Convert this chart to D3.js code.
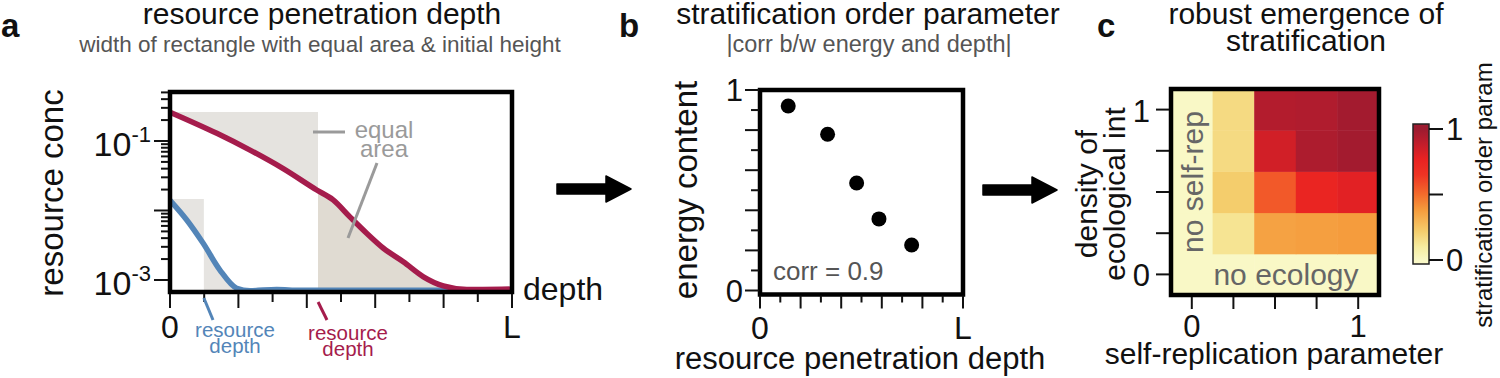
<!DOCTYPE html>
<html>
<head>
<meta charset="utf-8">
<script src="https://cdn.jsdelivr.net/npm/d3@7"></script>
<style>body{margin:0;background:#fff}</style>
</head>
<body>
<svg width="1500" height="378" id="mainsvg"></svg>
<script>
// panel a: resource profiles, depth as a fraction of L
const redDepth = [0, 0.137, 0.234, 0.331, 0.429, 0.477, 0.526, 0.575, 0.624, 0.682, 0.741, 0.799, 0.868, 0.915, 1.0];
const redConc  = [0.26, 0.129, 0.074, 0.040, 0.0197, 0.0142, 0.0081, 0.0047, 0.00286, 0.00183, 0.00111, 0.00082, 0.00073, 0.00073, 0.00074];
const blueDepth = [0, 0.049, 0.097, 0.146, 0.195, 0.234, 0.312, 0.38, 0.6, 1.0];
const blueConc  = [0.0140, 0.0073, 0.00337, 0.00139, 0.00076, 0.00070, 0.00073, 0.00071, 0.00071, 0.00071];
const redResDepth = 0.433, redInit = 0.261;
const blueResDepth = 0.099, blueInit = 0.0146;
const logTickLabels = [0.1, 0.001];

// panel b: energy vs penetration depth
const dotDepth  = [0.139, 0.333, 0.476, 0.586, 0.747];
const dotEnergy = [0.920, 0.779, 0.536, 0.357, 0.227];
const corrLabel = "corr = 0.9";

// panel c: order parameter grid (rows = density of ecological int, bottom to top)
const selfRep = [0, 0.25, 0.5, 0.75, 1];
const ecoDensity = [0, 0.25, 0.5, 0.75, 1];
const orderParam = [
  [0, 0,    0,    0,    0   ],
  [0, 0.13, 0.36, 0.37, 0.38],
  [0, 0.22, 0.55, 0.75, 0.79],
  [0, 0.17, 0.84, 0.95, 0.98],
  [0, 0.17, 0.93, 0.94, 0.98]
];
const colorStopVals = [0, 0.1, 0.22, 0.38, 0.5, 0.65, 0.77, 0.9, 1];
const colorStopHex  = ["#f9f8c6", "#f6eca0", "#f4cd6c", "#f59c3d", "#f36c2c", "#ef3424", "#e92222", "#bd1d2c", "#9c1b30"];

const FONT = "'Liberation Sans', Arial, Helvetica, sans-serif";
let svg = d3.select("#mainsvg").style("font-family", FONT);
svg.append("rect").attr("width", 1500).attr("height", 378).attr("fill", "#fff");
let defs = svg.append("defs");

function txt(g, x, y, s, size, opt) {
  opt = opt || {};
  let lines = Array.isArray(s) ? s : [s];
  let t = g.append("text").attr("x", x).attr("y", y)
    .attr("font-size", size).attr("fill", opt.fill || "#111")
    .attr("text-anchor", opt.anchor || "middle");
  lines.forEach((l, i) => t.append("tspan").attr("x", x).attr("dy", i ? (opt.lh || size) : 0).text(l));
  if (opt.bold) t.attr("font-weight", "bold");
  if (opt.rotate) t.attr("transform", `rotate(-90,${x},${y})`);
  return t;
}
function tickLines(g, vals, f, len) {
  g.selectAll(null).data(vals).join("line")
    .attr("x1", d => f(d)[0]).attr("y1", d => f(d)[1])
    .attr("x2", d => f(d)[0] + len[0]).attr("y2", d => f(d)[1] + len[1])
    .attr("stroke", "#111").attr("stroke-width", 2);
}
function arrow(x0, x1, yc) {
  svg.append("path")
    .attr("d", `M${x0},${yc-5} L${x1-25},${yc-5} L${x1-25},${yc-13} L${x1},${yc} L${x1-25},${yc+13} L${x1-25},${yc+5} L${x0},${yc+5} Z`)
    .attr("fill", "#000").attr("stroke", "#000").attr("stroke-width", 1.5).attr("stroke-linejoin", "round");
}

// ---------- panel a ----------
const xA = d3.scaleLinear().domain([0, 1]).range([170, 512]);
const yA = d3.scaleLog().domain([Math.pow(10, -3.173), Math.pow(10, -0.295)]).range([292, 92]);
const yBot = yA.range()[0], yTop = yA.range()[1];
let ga = svg.append("g");
function clip(id, d0, d1) {
  defs.append("clipPath").attr("id", id).append("rect")
    .attr("x", xA(d0)).attr("y", yTop).attr("width", xA(d1) - xA(d0)).attr("height", yBot - yTop);
}
clip("clipA", 0, 1);
clip("clipRedIn", 0, redResDepth);
clip("clipRedOut", redResDepth, 1);
clip("clipBlueIn", 0, blueResDepth);
clip("clipBlueOut", blueResDepth, 1);

let redPts = redDepth.map((d, i) => [d, redConc[i]]);
let bluePts = blueDepth.map((d, i) => [d, blueConc[i]]);

// rectangle part above the curve, and curve part beyond the rectangle
function shade(pts, top, clipId, fill) {
  ga.append("path").datum(pts).attr("clip-path", `url(#${clipId})`)
    .attr("d", d3.area().x(d => xA(d[0])).y0(top).y1(d => yA(d[1])).curve(d3.curveMonotoneX))
    .attr("fill", fill);
}
shade(redPts, yA(redInit), "clipRedIn", "#e5e3df");
shade(redPts, yBot, "clipRedOut", "#e0dbd2");
shade(bluePts, yA(blueInit), "clipBlueIn", "#e6e4e1");
shade(bluePts, yBot, "clipBlueOut", "#e6e4e1");

let lineA = d3.line().x(d => xA(d[0])).y(d => yA(d[1])).curve(d3.curveMonotoneX);
ga.append("path").datum(bluePts).attr("d", lineA).attr("clip-path", "url(#clipA)")
  .attr("fill", "none").attr("stroke", "#5385b8").attr("stroke-width", 5.5);
ga.append("path").datum(redPts).attr("d", lineA).attr("clip-path", "url(#clipA)")
  .attr("fill", "none").attr("stroke", "#a51c4c").attr("stroke-width", 5.5);

ga.append("rect").attr("x", xA(0)).attr("y", yTop)
  .attr("width", xA(1) - xA(0)).attr("height", yBot - yTop)
  .attr("fill", "none").attr("stroke", "#000").attr("stroke-width", 4.5);

// log ticks
let logMajor = [], logMinor = [];
for (let e = -4; e <= 0; e++) for (let m = 1; m <= 9; m++) {
  let v = m * Math.pow(10, e);
  if (v < 0.001 || v > yA.domain()[1]) continue;
  (m === 1 ? logMajor : logMinor).push(v);
}
tickLines(ga, logMajor, d => [xA(0) - 2, yA(d)], [-14, 0]);
tickLines(ga, logMinor, d => [xA(0) - 2, yA(d)], [-7, 0]);
logTickLabels.forEach(v => {
  let t = ga.append("text").attr("x", 151).attr("y", yA(v) + 15)
    .attr("text-anchor", "end").attr("font-size", 34).attr("fill", "#111");
  t.append("tspan").text("10");
  t.append("tspan").text("-" + Math.round(-Math.log10(v))).attr("font-size", 22).attr("dy", -14);
});
let xTicksA = d3.range(0, 11).map(i => i / 10);
tickLines(ga, xTicksA.filter((d, i) => i % 2 === 0), d => [xA(d), yBot + 2], [0, 14]);
tickLines(ga, xTicksA.filter((d, i) => i % 2 === 1), d => [xA(d), yBot + 2], [0, 8]);
txt(ga, xA(0), 338, "0", 32);
txt(ga, xA(1), 338, "L", 32);
txt(ga, 523, 300, "depth", 32, {anchor: "start"});
txt(ga, 63, 193, "resource conc", 33, {rotate: true});

// annotations
ga.append("line").attr("x1", 313).attr("y1", 132).attr("x2", 345).attr("y2", 132).attr("stroke", "#9a9a9a").attr("stroke-width", 3);
ga.append("line").attr("x1", 377).attr("y1", 163).attr("x2", 348).attr("y2", 238).attr("stroke", "#9a9a9a").attr("stroke-width", 3);
txt(ga, 384, 138, ["equal", "area"], 24, {fill: "#9a9a9a", lh: 19});
ga.append("line").attr("x1", xA(blueResDepth)).attr("y1", 298).attr("x2", 213).attr("y2", 320).attr("stroke", "#5385b8").attr("stroke-width", 3);
ga.append("line").attr("x1", xA(redResDepth)).attr("y1", 302).attr("x2", 327).attr("y2", 320).attr("stroke", "#a51c4c").attr("stroke-width", 3);
txt(ga, 235, 337, ["resource", "depth"], 20.5, {fill: "#5385b8", lh: 16});
txt(ga, 348, 340, ["resource", "depth"], 20.5, {fill: "#a51c4c", lh: 16});

txt(ga, 322, 24, "resource penetration depth", 30);
txt(ga, 320, 52, "width of rectangle with equal area & initial height", 22.5, {fill: "#555"});
txt(ga, 1, 37, "a", 33, {anchor: "start", bold: true});

arrow(557, 631, 189);

// ---------- panel b ----------
const xB = d3.scaleLinear().domain([0, 1]).range([760, 963]);
const yB = d3.scaleLinear().domain([0, 1]).range([290.5, 90]);
let gb = svg.append("g");
gb.selectAll("circle").data(dotDepth).join("circle")
  .attr("cx", d => xB(d)).attr("cy", (d, i) => yB(dotEnergy[i])).attr("r", 7.5).attr("fill", "#000");
gb.append("rect").attr("x", xB(0)).attr("y", yB(1))
  .attr("width", xB(1) - xB(0)).attr("height", yB(0) + 4 - yB(1))
  .attr("fill", "none").attr("stroke", "#000").attr("stroke-width", 4.5);
let tB = d3.range(0, 11).map(i => i / 10);
tickLines(gb, tB.filter((d, i) => i % 2 === 0), d => [xB(0) - 1, yB(d)], [-14, 0]);
tickLines(gb, tB.filter((d, i) => i % 2 === 1), d => [xB(0) - 1, yB(d)], [-8, 0]);
tickLines(gb, tB.filter((d, i) => i % 2 === 0), d => [xB(d), yB(0) + 5], [0, 13]);
tickLines(gb, tB.filter((d, i) => i % 2 === 1), d => [xB(d), yB(0) + 5], [0, 7]);
txt(gb, 743, yB(1) + 11, "1", 31, {anchor: "end"});
txt(gb, 743, yB(0) + 11, "0", 31, {anchor: "end"});
txt(gb, xB(0), 339, "0", 32);
txt(gb, xB(1), 339, "L", 32);
txt(gb, 773, 280, corrLabel, 26, {anchor: "start", fill: "#555"});
txt(gb, 697, 190, "energy content", 33, {rotate: true});
txt(gb, 860, 369, "resource penetration depth", 31);
txt(gb, 868, 24, "stratification order parameter", 30);
txt(gb, 869, 52, "|corr b/w energy and depth|", 23.5, {fill: "#555"});
txt(gb, 619, 37, "b", 33, {anchor: "start", bold: true});

arrow(983, 1057, 190);

// ---------- panel c ----------
const xC = d3.scaleLinear().domain([-0.125, 1.125]).range([1171, 1379]);
const yC = d3.scaleLinear().domain([-0.125, 1.125]).range([295, 89]);
const color = d3.scaleLinear().domain(colorStopVals).range(colorStopHex);
let gc = svg.append("g");
let cells = [];
ecoDensity.forEach((e, i) => selfRep.forEach((s, j) => cells.push({s: s, e: e, v: orderParam[i][j]})));
gc.selectAll(".cell").data(cells).join("rect").attr("class", "cell")
  .attr("x", d => xC(d.s - 0.125)).attr("y", d => yC(d.e + 0.125))
  .attr("width", d => xC(d.s + 0.125) - xC(d.s - 0.125) + 0.5)
  .attr("height", d => yC(d.e - 0.125) - yC(d.e + 0.125) + 0.5)
  .attr("fill", d => color(d.v));
gc.append("rect").attr("x", xC(-0.125)).attr("y", yC(1.125))
  .attr("width", xC(1.125) - xC(-0.125)).attr("height", yC(-0.125) - yC(1.125))
  .attr("fill", "none").attr("stroke", "#000").attr("stroke-width", 4.5);
tickLines(gc, ecoDensity, d => [xC(-0.125) - 2, yC(d)], [-13, 0]);
tickLines(gc, selfRep, d => [xC(d), yC(-0.125) + 2], [0, 12]);
txt(gc, 1150, yC(1) + 12, "1", 31, {anchor: "end"});
txt(gc, 1150, yC(0) + 12, "0", 31, {anchor: "end"});
txt(gc, xC(0), 337, "0", 31);
txt(gc, xC(1), 337, "1", 31);
txt(gc, 1203, 182, "no self-rep", 30, {rotate: true, fill: "#666"});
txt(gc, 1286, 285, "no ecology", 30, {fill: "#666"});
txt(gc, 1097, 194, ["density of", "ecological int"], 30, {rotate: true, lh: 28});
txt(gc, 1274, 364, "self-replication parameter", 30);
txt(gc, 1306, 24, ["robust emergence of", "stratification"], 30, {lh: 27});
txt(gc, 1097, 37, "c", 33, {anchor: "start", bold: true});

// colorbar
const yCb = d3.scaleLinear().domain([0, 1]).range([260, 129]);
const cbTop = 124, cbBot = 264;
let grad = defs.append("linearGradient").attr("id", "cbGrad")
  .attr("x1", 0).attr("y1", 1).attr("x2", 0).attr("y2", 0);
grad.selectAll("stop").data(colorStopVals).join("stop")
  .attr("offset", d => (cbBot - yCb(d)) / (cbBot - cbTop))
  .attr("stop-color", (d, i) => colorStopHex[i]);
gc.append("rect").attr("x", 1413).attr("y", cbTop).attr("width", 16).attr("height", cbBot - cbTop)
  .attr("fill", "url(#cbGrad)").attr("stroke", "#222").attr("stroke-width", 1.5);
tickLines(gc, [0, 0.5, 1], d => [1429, yCb(d)], [14, 0]);
txt(gc, 1446, yCb(1) + 11, "1", 31, {anchor: "start"});
txt(gc, 1446, yCb(0) + 11, "0", 31, {anchor: "start"});
txt(gc, 1492, 195, "stratification order param", 24, {rotate: true});
</script>
</body>
</html>
